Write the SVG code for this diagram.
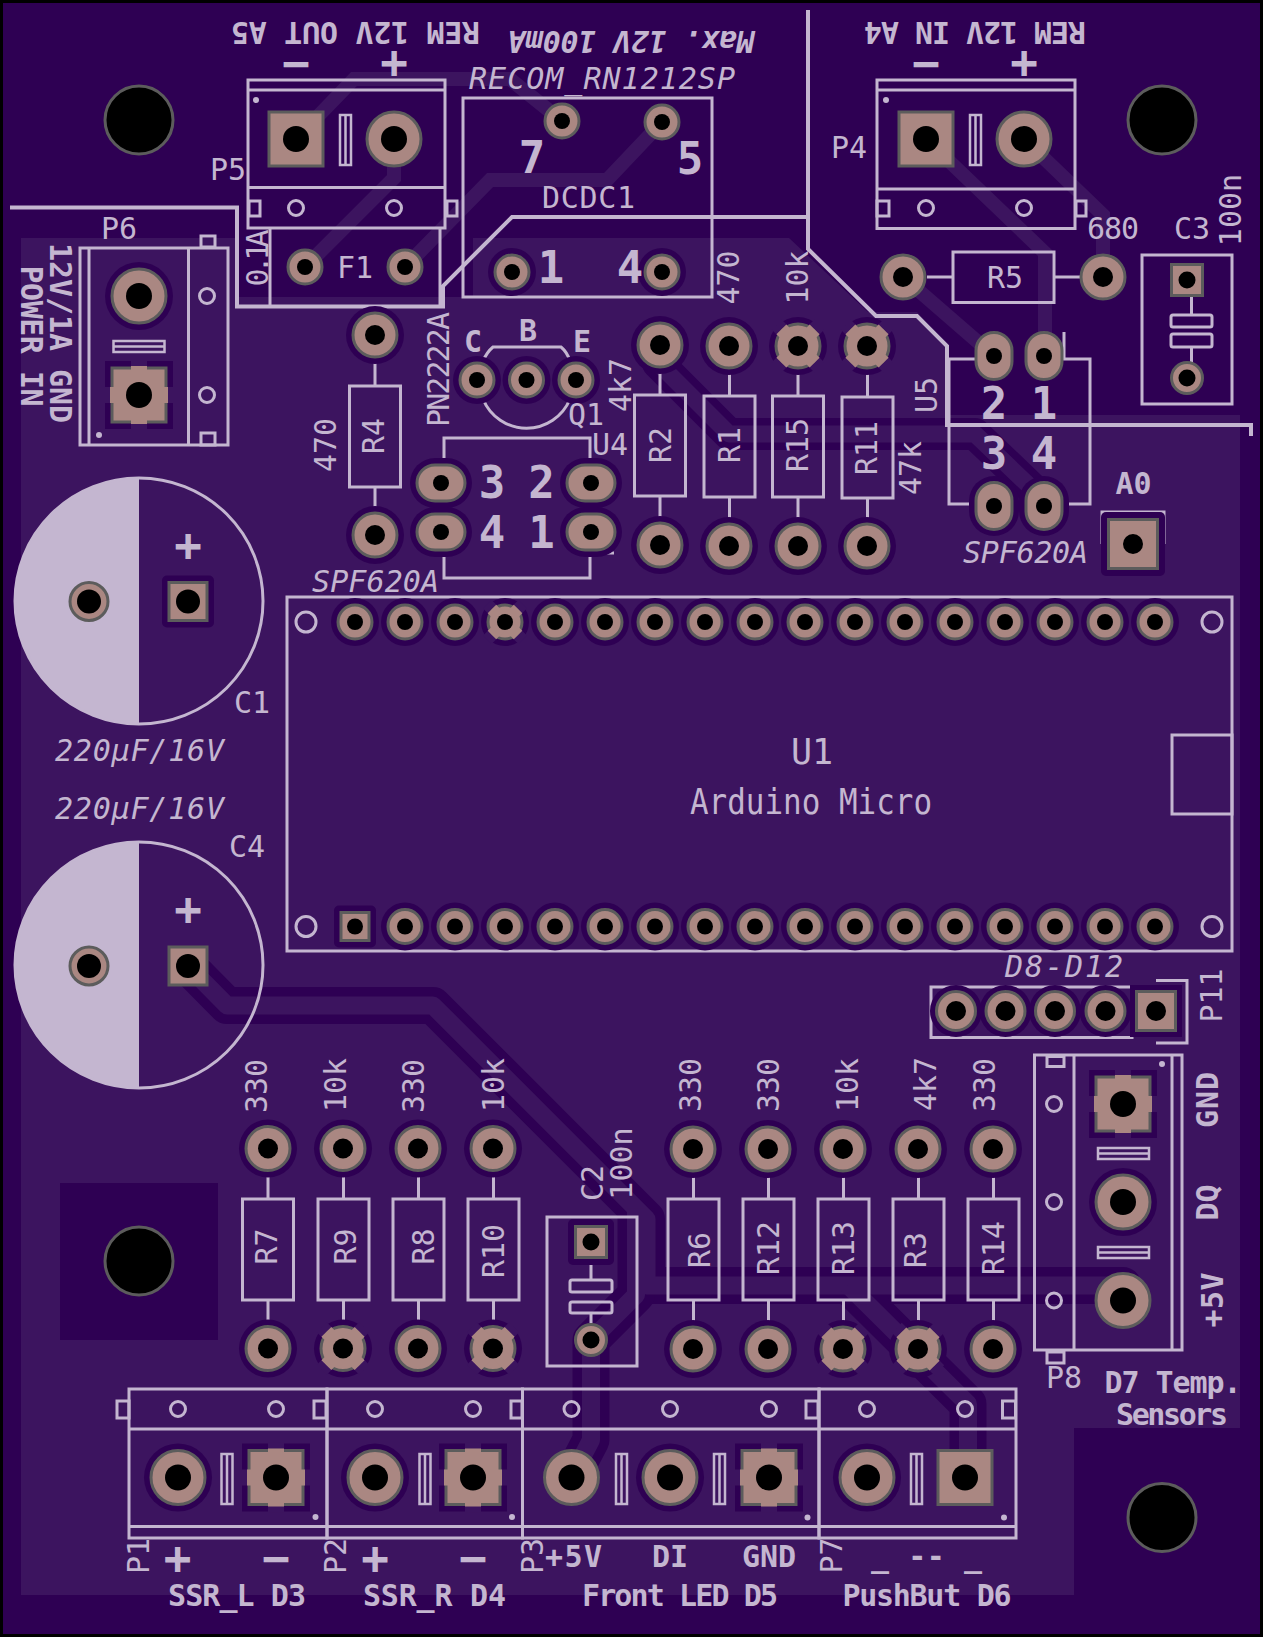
<svg xmlns="http://www.w3.org/2000/svg" width="1263" height="1637" viewBox="0 0 1263 1637">
<style>
.s{fill:none;stroke:#c4b6d0;stroke-width:3}
.e{fill:none;stroke:#c4b6d0;stroke-width:4}
.f{fill:#c4b6d0}
.h{fill:#2e0053}
.z{fill:#3c145f}
.pad{fill:#aa8782;stroke:#5c5c5c;stroke-width:3}
.pc{fill:#aa8782}
.d{fill:#000;stroke:none}
.ring{fill:#000;stroke:#5c5c5c;stroke-width:3}
.to{fill:none;stroke:#2e0053;stroke-width:37;stroke-linejoin:round}
.ti{fill:none;stroke:#3c145f;stroke-width:18;stroke-linejoin:round}
.to2{fill:none;stroke:#2e0053;stroke-width:32;stroke-linejoin:round}
.ti2{fill:none;stroke:#3c145f;stroke-width:17;stroke-linejoin:round}
.tl{fill:none;stroke:#3c145f;stroke-width:14;stroke-linejoin:miter}
text{font-family:"DejaVu Sans Mono","Liberation Mono",monospace;fill:#c4b6d0;text-anchor:middle;dominant-baseline:central;font-size:30px}
.b{font-weight:bold;font-size:30px}
.i{font-style:italic}
.n{font-weight:bold;font-size:44px}
.pm{font-size:46px;font-weight:bold}
.big{font-size:35px}
</style>
<defs>
<g id="r56"><circle class="pad" r="27"/><circle class="d" r="13"/></g>
<g id="s56"><rect class="pad" x="-27" y="-27" width="54" height="54"/><circle class="d" r="13"/></g>
<g id="R56"><circle class="h" r="34"/><use href="#r56"/></g>
<g id="T56"><rect class="h" x="-34" y="-34" width="68" height="68"/><rect class="z" x="-8" y="-35" width="16" height="70"/><rect class="z" x="-35" y="-8" width="70" height="16"/><rect class="pad" x="-27" y="-27" width="54" height="54"/><rect class="pc" x="-8" y="-29" width="16" height="58"/><rect class="pc" x="-29" y="-8" width="58" height="16"/><circle class="d" r="13"/></g>
<g id="r46"><circle class="pad" r="22"/><circle class="d" r="10"/></g>
<g id="R46"><circle class="h" r="29"/><use href="#r46"/></g>
<g id="X46"><circle class="h" r="29"/><g transform="rotate(45)"><rect class="z" x="-7" y="-30" width="14" height="60"/><rect class="z" x="-30" y="-7" width="60" height="14"/></g><circle class="pad" r="22"/><g transform="rotate(45)"><rect class="pc" x="-7" y="-23.500" width="14" height="47"/><rect class="pc" x="-23.500" y="-7" width="47" height="14"/></g><circle class="d" r="10"/></g>
<g id="r36"><circle class="pad" r="17"/><circle class="d" r="8"/></g>
<g id="R36"><circle class="h" r="24"/><use href="#r36"/></g>
<g id="X36"><circle class="h" r="24"/><g transform="rotate(45)"><rect class="z" x="-6" y="-25" width="12" height="50"/><rect class="z" x="-25" y="-6" width="50" height="12"/></g><circle class="pad" r="17"/><g transform="rotate(45)"><rect class="pc" x="-6" y="-18.500" width="12" height="37"/><rect class="pc" x="-18.500" y="-6" width="37" height="12"/></g><circle class="d" r="8"/></g>
<g id="r34"><circle class="pad" r="15.500"/><circle class="d" r="8.500"/></g>
<g id="s34"><rect class="pad" x="-15.500" y="-15.500" width="31" height="31"/><circle class="d" r="8.500"/></g>
<g id="r40"><circle class="pad" r="19"/><circle class="d" r="12"/></g>
<g id="s40"><rect class="h" x="-26" y="-26" width="52" height="52" rx="5"/><rect class="pad" x="-19" y="-19" width="38" height="38"/><circle class="d" r="12"/></g>
<g id="r42"><circle class="h" r="26"/><circle class="pad" r="19.500"/><circle class="d" r="10"/></g>
<g id="s42"><rect class="h" x="-26" y="-26" width="52" height="52"/><rect class="pad" x="-19.500" y="-19.500" width="39" height="39"/><circle class="d" r="10"/></g>
<g id="s52"><rect class="h" x="-32" y="-32" width="64" height="64" rx="5"/><rect class="pad" x="-24.500" y="-24.500" width="49" height="49"/><circle class="d" r="10"/></g>
<g id="s30"><rect class="h" x="-21" y="-21" width="42" height="42" rx="5"/><rect class="pad" x="-14" y="-14" width="28" height="28"/><circle class="d" r="8"/></g>
<g id="ovh"><rect class="h" x="-31" y="-25" width="62" height="50" rx="25"/><rect class="pad" x="-24" y="-18" width="48" height="36" rx="18"/><circle class="d" r="8"/></g>
<g id="ovv"><rect class="pad" x="-18" y="-23.500" width="36" height="47" rx="18"/><circle class="d" r="8"/></g>
<g id="ovV"><rect class="h" x="-25" y="-30" width="50" height="60" rx="25"/><use href="#ovv"/></g>
<g id="res"><path class="s" d="M0 24V51M-25.500 51H25.500V152H-25.500ZM0 152V176"/></g>
<path id="slv" class="s" d="M-5.500 -25H5.500V25H-5.500ZM0 -25V25" style="stroke-width:2.500"/>
<path id="slh" class="s" d="M-25.500 -5.500H25.500V5.500H-25.500ZM-25.500 0H25.500" style="stroke-width:2.500"/>
<circle id="hole" class="ring" r="34"/>
<circle id="sc" class="s" r="7.500"/>
</defs>

<rect id="board" width="1263" height="1637" fill="#000"/>
<rect x="3" y="3" width="1257" height="1631" fill="#2e0053"/>
<path id="zone" class="z" d="M21 238H237V297H473V238H789L868 312H917L947 346V415H1240V1428H1074V1595H21Z"/>
<rect class="h" x="60" y="1183" width="158" height="157"/>

<g id="connectors">
<path class="tl" d="M296 139L354 79H510L562 121"/>
<path class="tl" d="M305 267L394 178V139"/>
<path class="tl" d="M405 267L490 180H607L662 122"/>
<path class="tl" d="M926 139L1045 253V356"/>
<path class="tl" d="M1024 139L1103 215V277"/>
<path class="tl" d="M903 277L994 356"/>
<path class="to" d="M188 966L227 1005.500H433L646.500 1219V1285.500H1123V1300.500"/>
<path class="to" d="M636 1208.500V1295L591 1340V1440L571.500 1477.500"/>
<path class="to" d="M848 1285L968 1404V1478"/>
<path class="to2" d="M658 345V363L729 434H975L1044 500V506"/>
<path class="ti" d="M188 966L227 1005.500H433L646.500 1219V1285.500H1123V1300.500"/>
<path class="ti" d="M636 1208.500V1295L591 1340V1440L571.500 1477.500"/>
<path class="ti" d="M848 1285L968 1404V1478"/>
<path class="ti2" d="M658 345V363L729 434H975L1044 500V506"/>
</g>

<g id="outline"><path class="e" d="M10 207.500H237V306.500H443V286L512 217H808M808 10V249L876 316H917L947 346V425H1251V436"/></g>

<g id="holes">
<use href="#hole" x="139" y="120"/><use href="#hole" x="1162" y="120"/><use href="#hole" x="139" y="1261"/><use href="#hole" x="1162" y="1517.500"/>
</g>

<g id="P5">
<path class="s" d="M248 80H445V228H248ZM248 90H445M248 187.500H445"/>
<use href="#slv" x="345.500" y="140"/>
<rect class="s" x="249" y="201" width="11" height="15"/><rect class="s" x="447" y="201" width="10" height="15"/>
<use href="#sc" x="296" y="208"/><use href="#sc" x="394" y="208"/>
<circle class="f" cx="256" cy="100" r="3"/>
<use href="#s56" x="296" y="139"/><use href="#r56" x="394" y="139"/>
<text x="228" y="169">P5</text>
<text class="b" transform="translate(355.500,32) rotate(180)" textLength="249">REM 12V OUT A5</text>
<text class="pm" x="296" y="63">−</text><text class="pm" x="394" y="62">+</text>
</g>

<g id="P4">
<path class="s" d="M877 80H1075V228.500H877ZM877 90H1075M877 189H1075"/>
<use href="#slv" x="975.500" y="140"/>
<rect class="s" x="877" y="201" width="12" height="15"/><rect class="s" x="1076" y="201" width="10" height="15"/>
<use href="#sc" x="926" y="208"/><use href="#sc" x="1024" y="208"/>
<circle class="f" cx="886" cy="100" r="3"/>
<use href="#s56" x="926" y="139"/><use href="#r56" x="1024" y="139"/>
<text x="849" y="147">P4</text>
<text class="b" transform="translate(975,32) rotate(180)" textLength="222">REM 12V IN A4</text>
<text class="pm" x="926" y="63">−</text><text class="pm" x="1024" y="62">+</text>
</g>

<g id="F1">
<path class="s" d="M270 228V306M440 228V306"/>
<use href="#r36" x="305" y="267"/><use href="#r36" x="405" y="267"/>
<text x="355" y="267">F1</text>
<text transform="translate(257,258) rotate(-90)" textLength="57">0.1A</text>
</g>

<g id="P6">
<path class="s" d="M80 248H228V445H80ZM89 248V445M188.500 248V445"/>
<use href="#slh" x="139" y="346.500"/>
<rect class="s" x="201" y="236" width="14" height="11"/><rect class="s" x="201" y="433" width="14" height="12"/>
<use href="#sc" x="207" y="296"/><use href="#sc" x="207" y="395"/>
<circle class="f" cx="99" cy="435" r="3"/>
<use href="#R56" x="139" y="296"/><use href="#T56" x="139" y="395"/>
<text x="119" y="228">P6</text>
<text class="b" transform="translate(60,333) rotate(90)" textLength="180">12V/1A GND</text>
<text class="b" transform="translate(31,336) rotate(90)" textLength="141">POWER IN</text>
</g>

<g id="DCDC1">
<rect class="s" x="463" y="98" width="249" height="199"/>
<use href="#r36" x="562" y="121"/><use href="#r36" x="662" y="122"/>
<use href="#R36" x="512" y="272"/><use href="#R36" x="662" y="272"/>
<text class="n" x="532" y="157">7</text><text class="n" x="690" y="158">5</text>
<text class="n" x="551" y="267">1</text><text class="n" x="630" y="267">4</text>
<text x="588.500" y="197" textLength="93">DCDC1</text>
<text class="i" x="602" y="78" textLength="266">RECOM_RN1212SP</text>
<text class="b i" transform="translate(631,41) rotate(180)" textLength="247">Max. 12V 100mA</text>
</g>

<g id="R4">
<use href="#res" x="375" y="335"/>
<use href="#R46" x="375" y="335"/><use href="#R46" x="375" y="535"/>
<text transform="translate(373.500,436) rotate(-90)">R4</text>
<text transform="translate(325,445) rotate(-90)">470</text>
</g>

<g id="Q1">
<path class="s" d="M483 361Q487 352 493 347H561Q567 352 570 361M483 399A47 47 0 0 0 570 399"/>
<use href="#R36" x="477" y="380"/><use href="#R36" x="526.500" y="380"/><use href="#R36" x="576" y="380"/>
<text transform="translate(438,369.500) rotate(-90)" textLength="115">PN2222A</text>
<text class="b" x="473" y="341">C</text><text class="b" x="528" y="330">B</text><text class="b" x="582" y="341">E</text>
<text x="586" y="414">Q1</text>
</g>

<g id="U4">
<path class="s" d="M444 460V438H590V460M444 553V578H590V553H614"/>
<use href="#ovh" x="441" y="483"/><use href="#ovh" x="591" y="483"/><use href="#ovh" x="441" y="532"/><use href="#ovh" x="591" y="532"/>
<text class="n" x="492" y="482">3</text><text class="n" x="541.500" y="482">2</text><text class="n" x="492" y="532">4</text><text class="n" x="541.500" y="532">1</text>
<text x="610" y="444">U4</text>
<text class="i" x="375.500" y="581" textLength="127">SPF620A</text>
</g>

<g id="R2">
<use href="#res" x="660" y="344"/>
<use href="#R46" x="660" y="345"/><use href="#R46" x="660" y="545"/>
<text transform="translate(660,445) rotate(-90)">R2</text>
<text transform="translate(620,385) rotate(-90)">4k7</text>
</g>
<g id="R1">
<use href="#res" x="729.500" y="345"/>
<use href="#R46" x="729" y="346"/><use href="#R46" x="729" y="546"/>
<text transform="translate(729,445) rotate(-90)">R1</text>
<text transform="translate(728,277.500) rotate(-90)">470</text>
</g>
<g id="R15">
<use href="#res" x="798" y="345"/>
<use href="#X46" x="798" y="346"/><use href="#R46" x="798" y="546"/>
<text transform="translate(797.500,445) rotate(-90)">R15</text>
<text transform="translate(797.500,277.500) rotate(-90)">10k</text>
</g>
<g id="R11">
<use href="#res" x="867.500" y="346"/>
<use href="#X46" x="867" y="346"/><use href="#R46" x="867" y="546"/>
<text transform="translate(866,448) rotate(-90)">R11</text>
<text transform="translate(910.500,468) rotate(-90)">47k</text>
</g>

<g id="R5">
<path class="s" d="M927 277H953M953 252H1054V302.500H953ZM1054 277H1080"/>
<use href="#r46" x="903" y="277"/><use href="#r46" x="1103" y="277"/>
<text x="1005" y="277">R5</text>
<text x="1113" y="228" textLength="52">680</text>
</g>

<g id="C3">
<rect class="s" x="1142" y="255" width="90" height="149"/>
<path class="s" d="M1191.500 297V315M1191.500 347V362"/>
<rect class="s" x="1171" y="315" width="41" height="12" rx="2"/><rect class="s" x="1171" y="334" width="41" height="13" rx="2"/>
<use href="#s34" x="1187" y="280"/><use href="#r34" x="1187" y="378"/>
<text x="1192" y="228">C3</text>
<text transform="translate(1230.500,210) rotate(-90)">100n</text>
</g>

<g id="U5">
<path class="s" d="M949 359H975M949 359V504H975M1064 332V359H1090V504H1063"/>
<use href="#ovv" x="994" y="356"/><use href="#ovv" x="1044" y="356"/>
<use href="#ovV" x="994" y="506"/><use href="#ovV" x="1044" y="506"/>
<text class="n" x="994" y="403">2</text><text class="n" x="1044" y="403">1</text><text class="n" x="994" y="453">3</text><text class="n" x="1044" y="453">4</text>
<text transform="translate(926,395) rotate(-90)">U5</text>
<text class="i" x="1025.500" y="552" textLength="125">SPF620A</text>
</g>

<g id="A0">
<path class="s" d="M1102 544V512H1164V544M1108 569H1159"/>
<use href="#s52" x="1133" y="544"/>
<text class="b" x="1133.500" y="483">A0</text>
</g>

<g id="U1">
<rect class="s" x="287" y="597" width="945" height="354"/>
<rect class="s" x="1172" y="735" width="60" height="79"/>
<circle class="s" cx="306" cy="622" r="10"/><circle class="s" cx="306" cy="926.500" r="10"/><circle class="s" cx="1212" cy="622" r="10"/><circle class="s" cx="1212" cy="926.500" r="10"/>
<use href="#R36" x="355" y="622"/><use href="#R36" x="405" y="622"/><use href="#R36" x="455" y="622"/><use href="#X36" x="505" y="622"/><use href="#R36" x="555" y="622"/><use href="#R36" x="605" y="622"/><use href="#R36" x="655" y="622"/><use href="#R36" x="705" y="622"/><use href="#R36" x="755" y="622"/><use href="#R36" x="805" y="622"/><use href="#R36" x="855" y="622"/><use href="#R36" x="905" y="622"/><use href="#R36" x="955" y="622"/><use href="#R36" x="1005" y="622"/><use href="#R36" x="1055" y="622"/><use href="#R36" x="1105" y="622"/><use href="#R36" x="1155" y="622"/>
<use href="#s30" x="355" y="926.500"/><use href="#R36" x="405" y="926.500"/><use href="#R36" x="455" y="926.500"/><use href="#R36" x="505" y="926.500"/><use href="#R36" x="555" y="926.500"/><use href="#R36" x="605" y="926.500"/><use href="#R36" x="655" y="926.500"/><use href="#R36" x="705" y="926.500"/><use href="#R36" x="755" y="926.500"/><use href="#R36" x="805" y="926.500"/><use href="#R36" x="855" y="926.500"/><use href="#R36" x="905" y="926.500"/><use href="#R36" x="955" y="926.500"/><use href="#R36" x="1005" y="926.500"/><use href="#R36" x="1055" y="926.500"/><use href="#R36" x="1105" y="926.500"/><use href="#R36" x="1155" y="926.500"/>
<text class="big" x="812" y="752">U1</text>
<text class="big" x="811" y="802" textLength="242" lengthAdjust="spacingAndGlyphs">Arduino Micro</text>
</g>

<g id="C1">
<path class="f" d="M139 478A124 123 0 0 0 139 724Z"/>
<ellipse class="s" cx="139" cy="601" rx="124" ry="123"/>
<use href="#r40" x="89" y="601.500"/><use href="#s40" x="188" y="601.500"/>
<text class="pm" x="188" y="545">+</text>
<text x="252" y="702">C1</text>
<text class="i" x="139.500" y="750" textLength="169">220µF/16V</text>
</g>

<g id="C4">
<path class="f" d="M139 842A124 123 0 0 0 139 1088Z"/>
<ellipse class="s" cx="139" cy="965" rx="124" ry="123"/>
<use href="#r40" x="89" y="966"/>
<rect class="pad" x="169" y="947" width="38" height="38"/><circle class="d" cx="188" cy="966" r="12"/>
<text class="pm" x="188" y="909">+</text>
<text x="247" y="846">C4</text>
<text class="i" x="139.500" y="808" textLength="169">220µF/16V</text>
</g>

<g id="R7"><use href="#res" x="268" y="1148"/><use href="#R46" x="268" y="1148.500"/><use href="#R46" x="268" y="1348.500"/><text transform="translate(266,1246.500) rotate(-90)">R7</text><text transform="translate(256,1086) rotate(-90)">330</text></g>
<g id="R9"><use href="#res" x="343.500" y="1148"/><use href="#R46" x="343" y="1148.500"/><use href="#X46" x="343" y="1348.500"/><text transform="translate(345,1246.500) rotate(-90)">R9</text><text transform="translate(335,1085) rotate(-90)">10k</text></g>
<g id="R8"><use href="#res" x="418.500" y="1148"/><use href="#R46" x="418" y="1148.500"/><use href="#R46" x="418" y="1348.500"/><text transform="translate(423,1246.500) rotate(-90)">R8</text><text transform="translate(413,1086) rotate(-90)">330</text></g>
<g id="R10"><use href="#res" x="493.500" y="1148"/><use href="#R46" x="493" y="1148.500"/><use href="#X46" x="493" y="1348.500"/><text transform="translate(493,1251) rotate(-90)">R10</text><text transform="translate(493,1085) rotate(-90)">10k</text></g>

<g id="C2">
<rect class="s" x="547" y="1217" width="90" height="149"/>
<path class="s" d="M591 1260V1280M591 1312V1323"/>
<rect class="s" x="570" y="1280" width="42" height="12" rx="2"/><rect class="s" x="570" y="1302" width="42" height="11" rx="2"/>
<rect class="h" x="568" y="1219" width="46" height="46" rx="5"/>
<use href="#s34" x="591" y="1242"/><use href="#r34" x="591" y="1340"/>
<text transform="translate(592,1183) rotate(-90)">C2</text>
<text transform="translate(621.500,1163.500) rotate(-90)">100n</text>
</g>

<g id="R6"><use href="#res" x="693.500" y="1148"/><use href="#R46" x="693" y="1149"/><use href="#R46" x="693" y="1349"/><text transform="translate(699,1250) rotate(-90)">R6</text><text transform="translate(690,1085) rotate(-90)">330</text></g>
<g id="R12"><use href="#res" x="768.500" y="1148"/><use href="#R46" x="768" y="1149"/><use href="#R46" x="768" y="1349"/><text transform="translate(768,1248) rotate(-90)">R12</text><text transform="translate(768,1085) rotate(-90)">330</text></g>
<g id="R13"><use href="#res" x="843.500" y="1148"/><use href="#R46" x="843" y="1149"/><use href="#X46" x="843" y="1349"/><text transform="translate(843,1248) rotate(-90)">R13</text><text transform="translate(847,1085) rotate(-90)">10k</text></g>
<g id="R3"><use href="#res" x="918.500" y="1148"/><use href="#R46" x="918" y="1149"/><use href="#X46" x="918" y="1349"/><text transform="translate(915,1250) rotate(-90)">R3</text><text transform="translate(925,1084) rotate(-90)">4k7</text></g>
<g id="R14"><use href="#res" x="993.500" y="1148"/><use href="#R46" x="993" y="1149"/><use href="#R46" x="993" y="1349"/><text transform="translate(993,1248) rotate(-90)">R14</text><text transform="translate(984.500,1085) rotate(-90)">330</text></g>

<g id="P1">
<path class="s" d="M129 1389H327V1538H129ZM129 1429H327M129 1526.500H327"/>
<use href="#slv" x="227" y="1479"/>
<rect class="s" x="117" y="1401" width="12" height="17"/><rect class="s" x="314" y="1401" width="12" height="17"/>
<use href="#sc" x="178" y="1409"/><use href="#sc" x="276" y="1409"/>
<circle class="f" cx="315.500" cy="1517" r="3"/>
<use href="#R56" x="178" y="1477.500"/><use href="#T56" x="276" y="1477.500"/>
<text transform="translate(138,1556) rotate(-90)">P1</text>
<text class="pm" x="177.500" y="1558">+</text><text class="pm" x="276" y="1558">−</text>
<text class="b" x="237" y="1595" textLength="138">SSR_L D3</text>
</g>
<g id="P2">
<path class="s" d="M327 1389H522.500V1538H327ZM327 1429H522.500M327 1526.500H522.500"/>
<use href="#slv" x="425" y="1479"/>
<rect class="s" x="511" y="1401" width="11" height="17"/>
<use href="#sc" x="375" y="1409"/><use href="#sc" x="473" y="1409"/>
<circle class="f" cx="512" cy="1517" r="3"/>
<use href="#R56" x="375" y="1477.500"/><use href="#T56" x="473" y="1477.500"/>
<text transform="translate(335,1556) rotate(-90)">P2</text>
<text class="pm" x="375" y="1558">+</text><text class="pm" x="473" y="1558">−</text>
<text class="b" x="434.500" y="1595" textLength="143">SSR_R D4</text>
</g>
<g id="P3">
<path class="s" d="M522.500 1389H819V1538H522.500ZM522.500 1429H819M522.500 1526.500H819"/>
<use href="#slv" x="621.500" y="1479"/><use href="#slv" x="719.500" y="1479"/>
<rect class="s" x="806" y="1401" width="12" height="17"/>
<use href="#sc" x="571.500" y="1409"/><use href="#sc" x="670" y="1409"/><use href="#sc" x="769" y="1409"/>
<circle class="f" cx="807.500" cy="1517.500" r="3"/>
<use href="#r56" x="571.500" y="1477.500"/><use href="#R56" x="670" y="1477.500"/><use href="#T56" x="769" y="1477.500"/>
<text transform="translate(532,1556) rotate(-90)">P3</text>
<text class="b" x="573.500" y="1556.500" textLength="57">+5V</text>
<text class="b" x="670" y="1556.500">DI</text>
<text class="b" x="769" y="1556.500">GND</text>
<text class="b" x="680" y="1595" textLength="196">Front LED D5</text>
</g>
<g id="P7">
<path class="s" d="M819 1389H1016V1538H819ZM819 1429H1016M819 1526.500H1016"/>
<use href="#slv" x="916.500" y="1479"/>
<rect class="s" x="1002.500" y="1401" width="13" height="17"/>
<use href="#sc" x="867" y="1409"/><use href="#sc" x="965" y="1409"/>
<circle class="f" cx="1004" cy="1517.500" r="3"/>
<use href="#R56" x="867" y="1477.500"/><use href="#s56" x="965" y="1477.500"/>
<text transform="translate(831,1555.500) rotate(-90)">P7</text>
<text class="b" x="926.500" y="1556" textLength="111">_ -- _</text>
<text class="b" x="927" y="1595" textLength="169">PushBut D6</text>
</g>

<g id="P8">
<path class="s" d="M1034.500 1055H1182V1350H1034.500ZM1074 1055V1350M1172 1055V1350"/>
<use href="#slh" x="1123.500" y="1153.500"/><use href="#slh" x="1123.500" y="1252.500"/>
<rect class="s" x="1047" y="1056.500" width="17" height="10"/><rect class="s" x="1047" y="1352" width="17" height="11"/>
<use href="#sc" x="1054" y="1104"/><use href="#sc" x="1054" y="1202"/><use href="#sc" x="1054" y="1300.500"/>
<circle class="f" cx="1162" cy="1064" r="3"/>
<use href="#T56" x="1123" y="1104"/><use href="#R56" x="1123" y="1202"/><use href="#r56" x="1123" y="1300.500"/>
<text x="1064" y="1377">P8</text>
<text class="b" transform="translate(1207,1100) rotate(-90)" textLength="56">GND</text>
<text class="b" transform="translate(1207,1202.500) rotate(-90)">DQ</text>
<text class="b" transform="translate(1212,1300) rotate(-90)" textLength="55">+5V</text>
<text class="b" x="1173" y="1382" textLength="137">D7 Temp.</text>
<text class="b" x="1172" y="1414" textLength="112">Sensors</text>
</g>

<g id="P11">
<rect class="s" x="931" y="987" width="201" height="50.500"/>
<path class="s" d="M1156 980.500H1187V1043H1156"/>
<use href="#r42" x="956" y="1011"/><use href="#r42" x="1005.500" y="1011"/><use href="#r42" x="1055" y="1011"/><use href="#r42" x="1105.500" y="1011"/><use href="#s42" x="1156" y="1011"/>
<text class="i" x="1064" y="966" textLength="118">D8-D12</text>
<text transform="translate(1211,995.500) rotate(-90)">P11</text>
</g>
</svg>
